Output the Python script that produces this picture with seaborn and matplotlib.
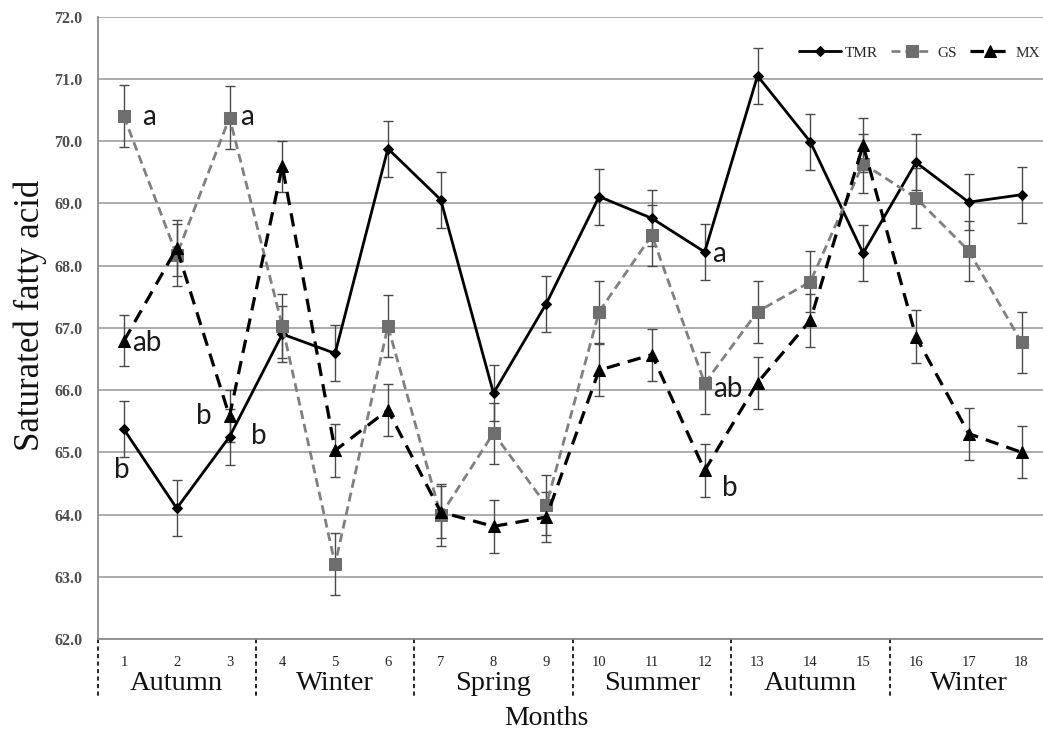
import matplotlib
matplotlib.use('Agg')
import matplotlib.pyplot as plt
import numpy as np
import pandas as pd
import seaborn as sns

# Valores (ácido graxo saturado por mês)
months = list(range(1, 19))
tmr = [65.37, 64.10, 65.25, 66.90, 66.59, 69.88, 69.06, 65.95, 67.39,
       69.11, 68.76, 68.22, 71.05, 69.99, 68.20, 69.66, 69.02, 69.14]
gs = [70.40, 68.17, 70.38, 67.03, 63.20, 67.03, 63.99, 65.31, 64.15,
      67.26, 68.49, 66.11, 67.26, 67.74, 69.64, 69.09, 68.24, 66.77]
mx = [66.79, 68.28, 65.58, 69.60, 65.03, 65.68, 64.04, 63.81, 63.96,
      66.32, 66.57, 64.71, 66.12, 67.12, 69.94, 66.86, 65.30, 65.00]

tmr_err = [0.45, 0.45, 0.45, 0.45, 0.45, 0.45, 0.45, 0.45, 0.45,
           0.45, 0.45, 0.45, 0.45, 0.45, 0.45, 0.45, 0.45, 0.45]
gs_err = [0.50, 0.50, 0.50, 0.52, 0.50, 0.50, 0.50, 0.49, 0.48,
          0.50, 0.49, 0.50, 0.50, 0.49, 0.48, 0.48, 0.48, 0.49]
mx_err = [0.41, 0.45, 0.42, 0.41, 0.42, 0.42, 0.42, 0.42, 0.40,
          0.42, 0.42, 0.42, 0.42, 0.42, 0.43, 0.42, 0.42, 0.42]

seasons = ['Autumn', 'Winter', 'Spring', 'Summer', 'Autumn', 'Winter']

# Letras de significância: (texto, x, y)
letters = [('a', 1.48, 70.39), ('a', 3.33, 70.39), ('ab', 1.44, 66.76),
           ('b', 0.96, 64.71), ('b', 2.52, 65.58), ('b', 3.55, 65.27),
           ('a', 12.27, 68.19), ('ab', 12.43, 66.02), ('b', 12.48, 64.42)]

sns.set_style('white')
plt.rcParams['font.family'] = ['Liberation Serif', 'DejaVu Serif']

fig = plt.figure(figsize=(10.43, 7.34), dpi=100)
ax = fig.add_axes([0.0935, 0.1294, 0.9112, 0.8478])

series = [
    ('TMR', tmr, tmr_err, 'black', 'black', 'D', 5.3, '-', 2.0),
    ('GS', gs, gs_err, '#808080', '#6e6e6e', 's', 8.2, (0, (3.2, 1.8)), 2.0),
    ('MX', mx, mx_err, 'black', 'black', '^', 8.5, (0, (4.2, 2.6)), 2.3),
]

handles = []
for name, vals, err, lc, mc, mk, ms, ls, lw in series:
    ax.errorbar(months, vals, yerr=err, fmt='none', ecolor='#4a4a4a',
                elinewidth=1.0, capsize=3.5, capthick=1.0, zorder=2)
    df = pd.DataFrame({'month': months, 'value': vals})
    sns.lineplot(data=df, x='month', y='value', ax=ax, color=lc,
                 linestyle=ls, linewidth=lw, marker=mk, markersize=ms,
                 markerfacecolor=mc, markeredgecolor=mc, errorbar=None,
                 zorder=3, label=name)
    handles.append(ax.lines[-1])

ax.get_legend().remove()

# Eixos
ax.set_xlim(0.5, 18.5)
ax.set_ylim(62, 72)
ax.set_yticks(np.arange(62, 72.1, 1))
ax.set_yticklabels([f'{v:.1f}' for v in np.arange(62, 72.1, 1)])
ax.set_xticks(months)
ax.set_xticklabels([str(m) for m in months])
ax.set_xticks(np.arange(0.5, 18.6, 1), minor=True)

ax.yaxis.grid(True, color='#a6a6a6', linewidth=1.3)
ax.xaxis.grid(False)
for side in ['top', 'right']:
    ax.spines[side].set_visible(False)
for side in ['left', 'bottom']:
    ax.spines[side].set_color('#8c8c8c')
    ax.spines[side].set_linewidth(1.3)

ax.tick_params(axis='y', which='major', length=5, width=1, color='#8c8c8c',
               direction='out', labelsize=11.5, labelcolor='#4d4d4d', pad=6)
for lab in ax.get_yticklabels():
    lab.set_fontweight('bold')
ax.tick_params(axis='x', which='major', length=0, labelsize=10.5,
               labelcolor='#222222', pad=12)
ax.tick_params(axis='x', which='minor', length=4, width=1, color='#8c8c8c',
               direction='out')

# Separadores das estações e nomes
trans = ax.get_xaxis_transform()
for b in np.arange(0.5, 18.6, 3):
    ax.plot([b, b], [0, -0.092], transform=trans, clip_on=False,
            color='black', linewidth=1.2, linestyle=(0, (2.5, 2)))
for i, s in enumerate(seasons):
    ax.text(2 + 3 * i, -0.072, s, transform=trans, ha='center', va='center',
            fontsize=20.5, color='#111111')

ax.set_xlabel('Months', fontsize=20, color='#111111')
ax.xaxis.label.set_va('center')
ax.xaxis.set_label_coords(0.472, -0.128)
ax.set_ylabel('Saturated fatty acid', fontsize=25, color='#111111')
ax.yaxis.label.set_va('center')
ax.yaxis.set_label_coords(-0.071, 0.52)

for txt, x, y in letters:
    ax.text(x, y, txt, ha='center', va='center', fontsize=20,
            family=['Lato', 'DejaVu Sans'], color='#1a1a1a', zorder=4)

fig.legend(handles=handles, labels=['TMR', 'GS', 'MX'], loc='center right',
           bbox_to_anchor=(1040 / 1043, 1 - 53 / 734), ncol=3, frameon=False,
           fontsize=11, handlelength=2.7, handletextpad=0.3,
           columnspacing=0.85, borderaxespad=0, borderpad=0)

fig.savefig('out.png', dpi=100)
